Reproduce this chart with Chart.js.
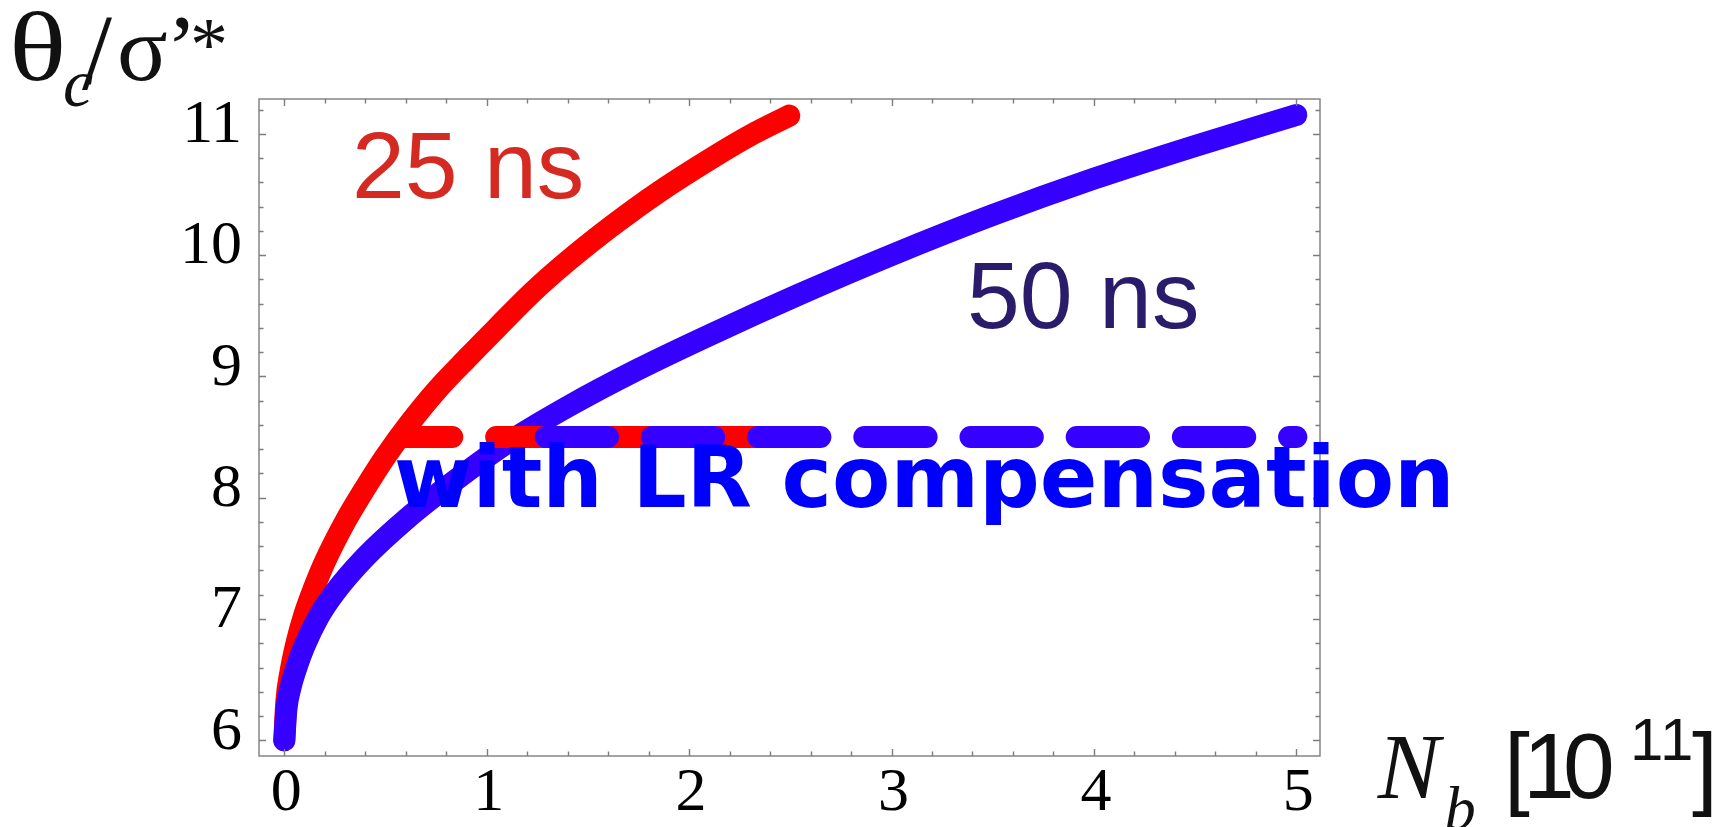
<!DOCTYPE html>
<html>
<head>
<meta charset="utf-8">
<script src="https://cdn.jsdelivr.net/npm/chart.js@4.4.1/dist/chart.umd.min.js"></script>
<style>
html,body{margin:0;padding:0;background:#ffffff;overflow:hidden}
canvas{display:block}
</style>
</head>
<body>
<canvas id="c" width="1729" height="827"></canvas>
<script>
// ---- axis ticks ----
const xTickValues = [0, 1, 2, 3, 4, 5];
const yTickValues = [6, 7, 8, 9, 10, 11];
const xRange = [-0.125, 5.117];
const yRange = [5.8706, 11.287];

// ---- 25 ns curve (red) ----
const red25X = [0, 0.01, 0.03, 0.06, 0.1, 0.15, 0.2, 0.3, 0.4, 0.5, 0.613, 0.75, 0.909, 1.05, 1.23, 1.4, 1.626, 1.85, 2.112, 2.3, 2.495];
const red25Y = [6.0, 6.32, 6.56, 6.8, 7.04, 7.27, 7.47, 7.8, 8.08, 8.34, 8.6, 8.88, 9.16, 9.40, 9.7, 9.95, 10.25, 10.52, 10.8, 10.985, 11.15];

// ---- 50 ns curve (blue) ----
const blue50X = [0, 0.01, 0.03, 0.06, 0.1, 0.17, 0.25, 0.4, 0.6, 0.85, 1.1, 1.4, 1.75, 2.1, 2.55, 3.0, 3.5, 4.0, 4.5, 5.0];
const blue50Y = [6.0, 6.25, 6.43, 6.6, 6.78, 7.02, 7.22, 7.51, 7.82, 8.15, 8.45, 8.75, 9.06, 9.34, 9.68, 10.0, 10.33, 10.63, 10.9, 11.155];

// ---- with LR compensation (dashed) ----
const lrLevel = [8.5, 8.5];
const red25LRX = [0.57, 2.5];
const blue50LRX = [1.2915, 5.0];

// ---- in-plot labels (data coordinates) ----
const label25 = {text: '25 ns', x: 0.334, y: 10.468};
const label50 = {text: '50 ns', x: 3.373, y: 9.397};
const labelLR = {text: 'with LR compensation', x: 0.542, y: 7.921};

const toPts = (xs, ys) => xs.map((v, i) => ({x: v, y: ys[i]}));

const RED = '#ff0000';
const BLUE = '#3500ff';
const LW = 22;

// draw text so that its ink starts at inkLeft (optional horizontal stretch)
function inkText(ctx, t, inkLeft, baseline, sx) {
  const m = ctx.measureText(t);
  const s = sx || 1;
  ctx.save();
  ctx.translate(inkLeft, baseline);
  ctx.scale(s, 1);
  ctx.fillText(t, m.actualBoundingBoxLeft, 0);
  ctx.restore();
}

const framePlugin = {
  id: 'frameTicks',
  afterDatasetsDraw(chart) {
    const {ctx, chartArea: a, scales: {x, y}} = chart;
    ctx.save();
    ctx.strokeStyle = '#7d7d7d';
    ctx.lineWidth = 1.4;
    ctx.strokeRect(a.left, a.top, a.right - a.left, a.bottom - a.top);
    ctx.beginPath();
    xTickValues.forEach(mv => {
      for (let k = 0; k < 5; k++) {
        const v = mv + k * 0.2;
        if (v > x.max) break;
        const px = Math.round(x.getPixelForValue(v)) + 0.5;
        const L = k === 0 ? 7 : 4.5;
        ctx.moveTo(px, a.bottom); ctx.lineTo(px, a.bottom - L);
        ctx.moveTo(px, a.top); ctx.lineTo(px, a.top + L);
      }
    });
    yTickValues.forEach(mv => {
      for (let k = 0; k < 5; k++) {
        const v = mv + k * 0.2;
        if (v > y.max) break;
        const py = Math.round(y.getPixelForValue(v)) + 0.5;
        const L = k === 0 ? 7 : 4.5;
        ctx.moveTo(a.left, py); ctx.lineTo(a.left + L, py);
        ctx.moveTo(a.right, py); ctx.lineTo(a.right - L, py);
      }
    });
    ctx.stroke();
    ctx.restore();
  },
  afterDraw(chart) {
    const {ctx, scales: {x, y}} = chart;
    ctx.save();
    ctx.textAlign = 'left';
    ctx.textBaseline = 'alphabetic';

    // in-plot labels
    ctx.fillStyle = '#d42a22';
    ctx.font = '95px "Liberation Sans", Arial, sans-serif';
    ctx.fillText(label25.text, x.getPixelForValue(label25.x), y.getPixelForValue(label25.y));
    ctx.fillStyle = '#2b1b6b';
    ctx.fillText(label50.text, x.getPixelForValue(label50.x), y.getPixelForValue(label50.y));
    ctx.fillStyle = '#0000ff';
    ctx.font = 'bold 85px "DejaVu Sans", sans-serif';
    ctx.fillText(labelLR.text, x.getPixelForValue(labelLR.x), y.getPixelForValue(labelLR.y));

    // y axis title: θc/σ'*
    ctx.fillStyle = '#111111';
    ctx.font = '98px "Liberation Serif", serif';
    inkText(ctx, '\u03B8', 14, 80, 1.22);
    ctx.font = 'italic 68px "Liberation Serif", serif';
    inkText(ctx, 'c', 65, 106);
    ctx.font = '108px "Liberation Serif", serif';
    inkText(ctx, '/', 82, 89);
    ctx.font = '94px "Liberation Serif", serif';
    inkText(ctx, '\u03C3', 120, 80);
    inkText(ctx, '\u2019', 174, 79);
    ctx.font = '76px "Liberation Serif", serif';
    inkText(ctx, '*', 193, 70);

    // x axis title: N_b [10^11]
    ctx.font = 'italic 93px "Liberation Serif", serif';
    inkText(ctx, 'N', 1376.7, 798);
    ctx.font = 'italic 62px "Liberation Serif", serif';
    inkText(ctx, 'b', 1446.7, 829);
    ctx.font = '93px "Liberation Sans", Arial, sans-serif';
    inkText(ctx, '[', 1510, 798);
    inkText(ctx, '1', 1530, 798);
    inkText(ctx, '0', 1566, 798);
    inkText(ctx, ']', 1692, 798);
    ctx.font = '60px "Liberation Sans", Arial, sans-serif';
    inkText(ctx, '1', 1634, 760);
    inkText(ctx, '1', 1664, 760);
    ctx.restore();
  }
};

const tickFont = {family: '"Liberation Serif", "Times New Roman", serif', size: 62};

new Chart(document.getElementById('c'), {
  type: 'line',
  data: {
    datasets: [
      {label: '50 ns LR', data: toPts(blue50LRX, lrLevel), borderColor: BLUE, borderWidth: LW,
       borderDash: [62.3, 43.9], borderDashOffset: 0, borderCapStyle: 'round', order: 0},
      {label: '25 ns LR', data: toPts(red25LRX, lrLevel), borderColor: RED, borderWidth: LW,
       borderDash: [62.3, 43.9], borderDashOffset: 9.7, borderCapStyle: 'round', order: 1},
      {label: '50 ns', data: toPts(blue50X, blue50Y), borderColor: BLUE, borderWidth: LW,
       cubicInterpolationMode: 'monotone', borderCapStyle: 'round', borderJoinStyle: 'round', order: 2},
      {label: '25 ns', data: toPts(red25X, red25Y), borderColor: RED, borderWidth: LW,
       cubicInterpolationMode: 'monotone', borderCapStyle: 'round', borderJoinStyle: 'round', order: 3}
    ]
  },
  options: {
    responsive: false,
    devicePixelRatio: 1,
    animation: false,
    events: [],
    clip: false,
    elements: {point: {radius: 0, hoverRadius: 0}, line: {fill: false}},
    layout: {padding: {left: 0, right: 409, top: 99, bottom: 0}},
    plugins: {legend: {display: false}, tooltip: {enabled: false}, title: {display: false}},
    scales: {
      x: {
        type: 'linear', min: xRange[0], max: xRange[1],
        grid: {display: false, drawTicks: false},
        border: {display: false},
        ticks: {stepSize: 1, includeBounds: false, autoSkip: false, maxRotation: 0, padding: 1,
                labelOffset: 2, color: '#000000', font: tickFont,
                callback: v => xTickValues.includes(v) ? String(v) : ''},
        afterFit: s => { s.height = 71; }
      },
      y: {
        type: 'linear', min: yRange[0], max: yRange[1],
        grid: {display: false, drawTicks: false},
        border: {display: false},
        ticks: {stepSize: 1, includeBounds: false, autoSkip: false, padding: 17,
                labelOffset: -8, color: '#000000', font: tickFont,
                callback: v => yTickValues.includes(v) ? String(v) : ''},
        afterFit: s => { s.width = 259; }
      }
    }
  },
  plugins: [framePlugin]
});
</script>
</body>
</html>
